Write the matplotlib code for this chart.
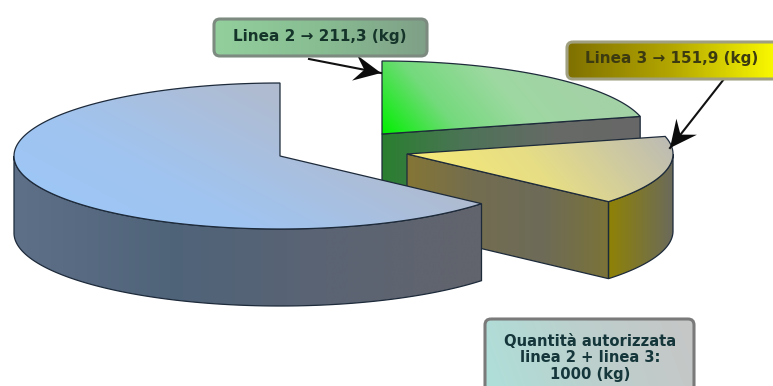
#!/usr/bin/env python3
# -*- coding: utf-8 -*-
import numpy as np
import matplotlib
matplotlib.use("Agg")
import matplotlib.pyplot as plt
from matplotlib.colors import to_rgb
from matplotlib.patches import Polygon, FancyBboxPatch

# quantities in kg
linea2 = 211.3
linea3 = 151.9
totale = 1000.0
resto = totale - linea2 - linea3

label2 = "Linea 2 \u2192 211,3 (kg)"
label3 = "Linea 3 \u2192 151,9 (kg)"
label_tot = "Quantit\u00e0 autorizzata\nlinea 2 + linea 3:\n1000 (kg)"

RX, RY, DEPTH = 266, 73, 77
EDGE = "#1d2a3a"


def arc(cx, cy, a0, a1, n=120):
    t = np.radians(np.linspace(a0, a1, n))
    return np.column_stack((cx + RX * np.cos(t), cy - RY * np.sin(t)))


def shade(ax, patch, stops, angle, zorder):
    # linear gradient clipped to the patch, angle in degrees (0 = left to right, 90 = upward)
    ext = patch.get_path().transformed(patch.get_patch_transform()).get_extents()
    X, Y = np.meshgrid(np.linspace(ext.x0, ext.x1, 160), np.linspace(ext.y0, ext.y1, 160))
    a = np.radians(angle)
    t = (X - ext.x0) * np.cos(a) - (Y - ext.y1) * np.sin(a)
    t = (t - t.min()) / (t.max() - t.min())
    pos = np.linspace(0, 1, len(stops))
    cols = np.array([to_rgb(c) for c in stops])
    rgb = np.dstack([np.interp(t, pos, cols[:, i]) for i in range(3)])
    patch.set_zorder(zorder + 0.1)
    patch.set_facecolor("none")
    ax.add_patch(patch)
    im = ax.imshow(rgb, extent=(ext.x0, ext.x1, ext.y1, ext.y0), origin="upper",
                   aspect="auto", zorder=zorder, interpolation="bilinear")
    im.set_clip_path(patch)


def poly(ax, xy, stops, angle, zorder, lw=0.9, ec=EDGE):
    shade(ax, Polygon(xy, closed=True, edgecolor=ec, linewidth=lw), stops, angle, zorder)


def box(ax, x, y, w, h, stops, angle, ec, zorder=8):
    p = FancyBboxPatch((x, y), w, h, boxstyle="round,pad=0,rounding_size=6",
                       edgecolor=ec, linewidth=2.2)
    shade(ax, p, stops, angle, zorder)


def arrow(ax, tail, tip, zorder=7):
    tail, tip = np.array(tail, float), np.array(tip, float)
    u = (tip - tail) / np.linalg.norm(tip - tail)
    n = np.array([-u[1], u[0]])
    ax.plot([tail[0], tip[0]], [tail[1], tip[1]], color="#111", lw=1.5, zorder=zorder)
    head = [tip, tip - 27 * u + 13 * n, tip - 17 * u, tip - 27 * u - 13 * n]
    ax.add_patch(Polygon(head, closed=True, fc="#0c0c0c", ec="none", zorder=zorder))


fig = plt.figure(figsize=(7.73, 3.86), dpi=100)
ax = fig.add_axes([0, 0, 1, 1])

# angles of the slices come from the quantities
a_start = 90.0
a2 = a_start - linea2 / totale * 360
a3 = a2 - linea3 / totale * 360
a_blu = a_start + resto / totale * 360

# green slice (back)
c2 = (382, 134)
rim2 = arc(*c2, a_start, a2)
p_end = rim2[-1]
poly(ax, [c2, p_end, p_end + [0, DEPTH], (c2[0], c2[1] + DEPTH)],
     ["#2a7f30", "#4e7358", "#666a66", "#676767"], 0, 1)
poly(ax, np.vstack(([c2], rim2)), ["#00f000", "#74da7c", "#9ed8a2", "#a3d2a6", "#a3d2a6"], 40, 2)

# yellow slice
c3 = (407, 154)
rim3 = arc(*c3, a2, a3)
tip3 = rim3[-1]
poly(ax, [c3, tip3, tip3 + [0, DEPTH], (c3[0], c3[1] + DEPTH)],
     ["#857635", "#736d50", "#6d6b58", "#7b7338"], 0, 3)
wall3 = arc(*c3, a3, 0)
poly(ax, np.vstack((wall3, wall3[::-1] + [0, DEPTH])),
     ["#8f8206", "#7c7632", "#6b6a5c"], 0, 3)
poly(ax, np.vstack(([c3], rim3)), ["#fbee70", "#e6dd86", "#bbbab6"], 40, 4)

# blue slice (front)
c1 = (280, 156)
rim1 = arc(*c1, a_start, a_blu, 200)
wall1 = arc(*c1, 180, a_blu, 200)
poly(ax, np.vstack((wall1, wall1[::-1] + [0, DEPTH])),
     ["#5e7088", "#4f6379", "#5b6474", "#62646c"], 0, 5)
poly(ax, np.vstack(([c1], rim1)), ["#9cc8f8", "#a0c4f0", "#afbcd2", "#b9b9bf"], 62, 6)

# callouts
arrow(ax, (309, 59), (381, 73))
arrow(ax, (724, 79), (670, 148))
box(ax, 214, 19, 213, 37, ["#93cf9d", "#88bd92", "#7fa087"], 0, "#7c8a80")
box(ax, 567, 42, 215, 37, ["#7f7000", "#b5a800", "#ffff00"], 0, "#a0a080")
box(ax, 485, 319, 209, 80, ["#aee0da", "#bcd0cd", "#c6c6c6"], 20, "#7a7a7a")

ax.text(320, 36, label2, ha="center", va="center", fontsize=11, fontweight="bold",
        color="#16352a", zorder=10)
ax.text(672, 59, label3, ha="center", va="center", fontsize=11, fontweight="bold",
        color="#3c3a10", zorder=10)
ax.text(590, 358, label_tot, ha="center", va="center", fontsize=10.6, fontweight="bold",
        color="#15363a", linespacing=1.1, zorder=10)

ax.set_xlim(0, 773)
ax.set_ylim(386, 0)
ax.axis("off")
fig.savefig("out.png", dpi=100)
